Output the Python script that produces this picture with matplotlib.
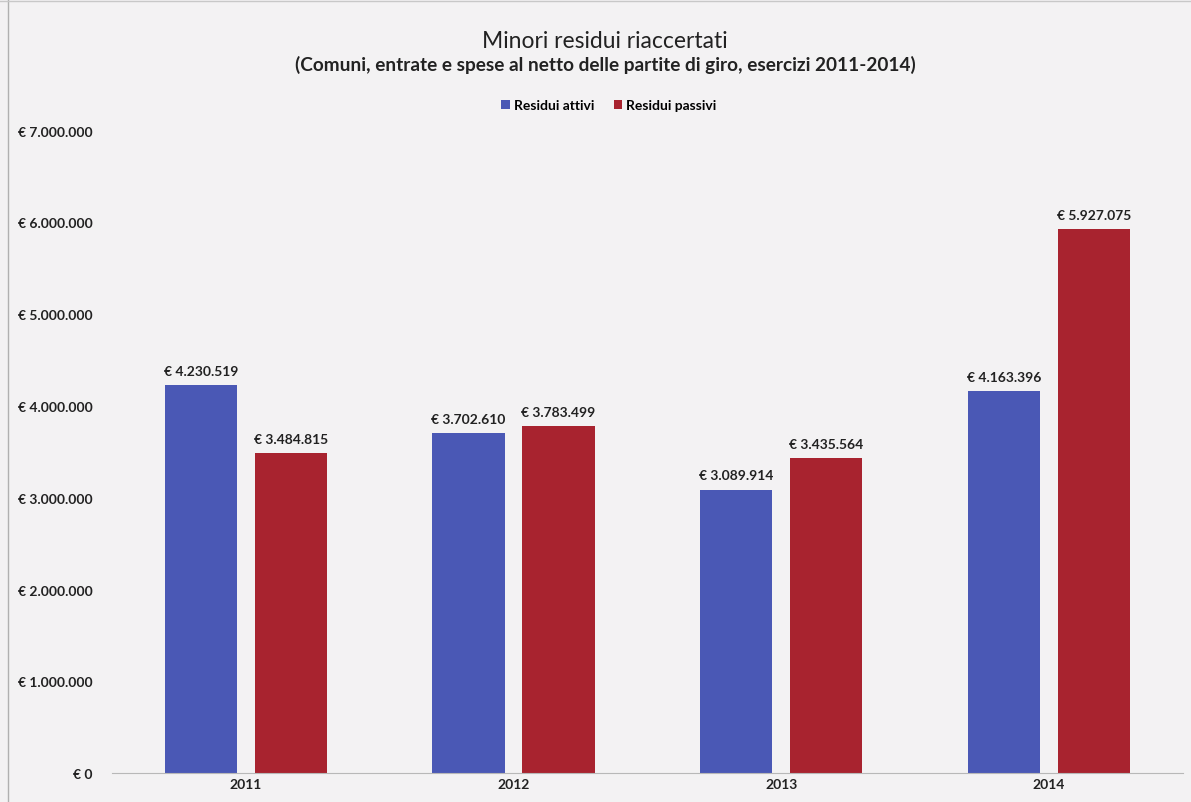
import matplotlib.pyplot as plt
import numpy as np
from matplotlib.ticker import FuncFormatter

plt.rcParams['font.family'] = ['Lato', 'DejaVu Sans']

years = ['2011', '2012', '2013', '2014']
attivi = [4230519, 3702610, 3089914, 4163396]
passivi = [3484815, 3783499, 3435564, 5927075]
yticks = [0, 1000000, 2000000, 3000000, 4000000, 5000000, 6000000, 7000000]


def euro(v, pos=None):
    return '€ ' + f'{int(v):,}'.replace(',', '.')


fig = plt.figure(figsize=(11.91, 8.03), dpi=100, facecolor='#f3f2f3')
ax = fig.add_axes([0.094, 0.036, 0.899, 0.80])
ax.set_facecolor('#f3f2f3')

x = np.arange(len(years))
w = 0.27
off = 0.168
b1 = ax.bar(x - off, attivi, w, color='#4a58b5', label='Residui attivi')
b2 = ax.bar(x + off, passivi, w, color='#a8232f', label='Residui passivi')

for bars, vals in ((b1, attivi), (b2, passivi)):
    for r, v in zip(bars, vals):
        ax.text(r.get_x() + r.get_width() / 2, v + 90000, euro(v),
                ha='center', va='bottom', fontsize=10, fontweight='bold', color='#222222')

ax.set_xlim(-0.5, 3.5)
ax.set_ylim(0, 7000000)
ax.set_yticks(yticks)
ax.yaxis.set_major_formatter(FuncFormatter(euro))
ax.set_xticks(x)
ax.set_xticklabels(years)
for s in ['top', 'right', 'left']:
    ax.spines[s].set_visible(False)
ax.spines['bottom'].set_color('#b8b8b8')
ax.tick_params(axis='both', length=0, labelsize=10, colors='#222222')
ax.tick_params(axis='y', pad=14)
for t in ax.get_xticklabels() + ax.get_yticklabels():
    t.set_fontweight('bold')

fig.text(0.508, 0.948, 'Minori residui riaccertati', ha='center', va='center',
         fontsize=16.5, color='#222222')
fig.text(0.508, 0.919, '(Comuni, entrate e spese al netto delle partite di giro, esercizi 2011-2014)',
         ha='center', va='center', fontsize=13.7, fontweight='bold', color='#222222')
ax.legend(loc='center', bbox_to_anchor=(0.464, 1.04), ncol=2, frameon=False,
          handlelength=0.6, handleheight=0.6, columnspacing=1.4, handletextpad=0.3,
          prop={'weight': 'bold', 'size': 10})

fig.add_artist(plt.Line2D([0.007, 0.007], [0, 1], color='#b0b0b0', lw=1))
fig.add_artist(plt.Line2D([0, 1], [0.998, 0.998], color='#c8c8c8', lw=1))

fig.savefig('out.png', dpi=100, facecolor=fig.get_facecolor())
